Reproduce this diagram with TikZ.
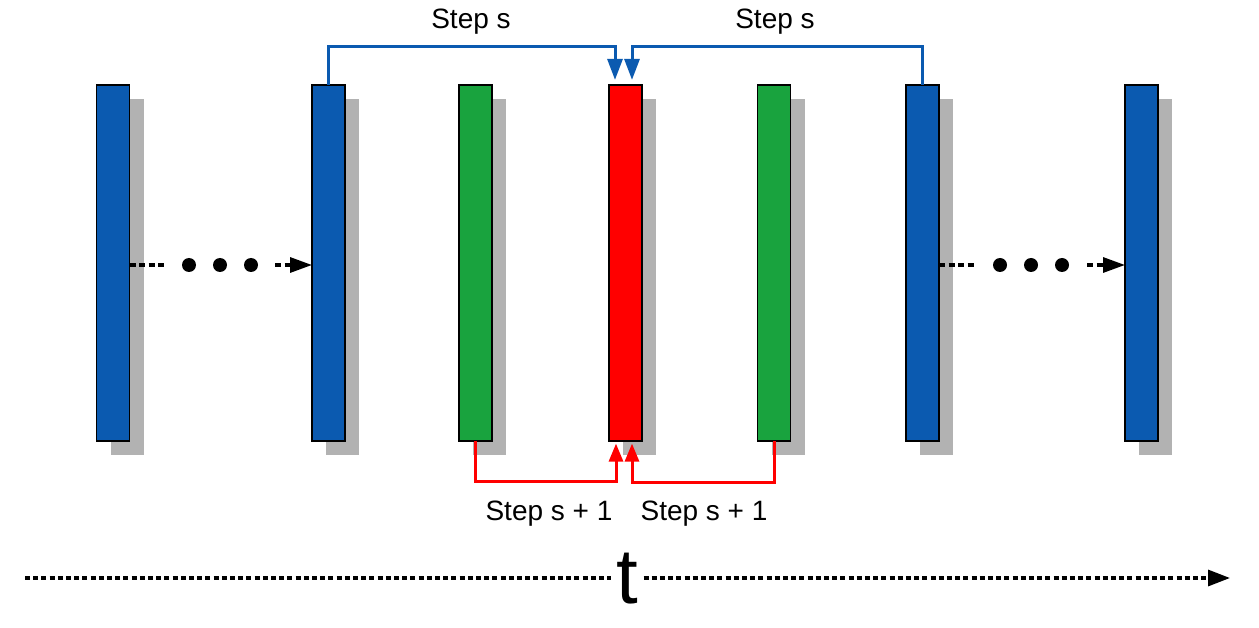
\documentclass[tikz,border=0pt]{standalone}
\usepackage{fontspec}
\setmainfont{Liberation Sans}
\usetikzlibrary{arrows.meta,shadows}
\definecolor{barblue}{RGB}{11,90,176}
\definecolor{bargreen}{RGB}{25,163,62}
\definecolor{barred}{RGB}{255,0,0}
\definecolor{shadowgray}{RGB}{178,178,178}
\begin{document}
\begin{tikzpicture}[x=1pt,y=-1pt,
  bar/.style={draw=black, line width=1.8pt, minimum width=33pt, minimum height=356.2pt,
    inner sep=0pt, outer sep=0pt,
    drop shadow={shadow xshift=14pt, shadow yshift=-14pt, fill=shadowgray, opacity=1, draw=none}},
  bluearr/.style={draw=barblue, line width=3pt, -{Triangle[length=21pt,width=15pt]}, shorten >=5pt},
  redarr/.style={draw=barred, line width=3pt, -{Triangle[length=18pt,width=14pt]}, shorten >=2.5pt},
  dotline/.style={draw=black, line width=3.2pt, dash pattern=on 6pt off 3.5pt},
  axisline/.style={draw=black, line width=3.2pt, dash pattern=on 5pt off 3.2pt},
  bigdot/.style={circle, fill=black, minimum size=14pt, inner sep=0pt},
  lbl/.style={font=\fontsize{28}{33}\selectfont, inner sep=0pt, anchor=base}]
\useasboundingbox (0,0) rectangle (1259,628);
% bars
\node[bar, fill=barblue]  (b1) at (113,263)   {};
\node[bar, fill=barblue]  (b2) at (328.5,263) {};
\node[bar, fill=bargreen] (g1) at (475.5,263) {};
\node[bar, fill=barred]   (r)  at (625.5,263) {};
\node[bar, fill=bargreen] (g2) at (774,263)   {};
\node[bar, fill=barblue]  (b6) at (922.5,263) {};
\node[bar, fill=barblue]  (b7) at (1141.5,263) {};
% top arrows
\draw[bluearr] (b2.north) -- ++(0,-38) -| ([xshift=-10.5pt]r.north);
\draw[bluearr] (b6.north) -- ++(0,-38) -| ([xshift=6.5pt]r.north);
\node[lbl] (s1) at (471,29) {Step s};
\node[lbl] (s2) at (775,29) {Step s};
% bottom arrows
\draw[redarr] (g1.south) -- ++(0,40) -| ([xshift=-9.5pt]r.south);
\draw[redarr] (g2.south) -- ++(0,41) -| ([xshift=6.5pt]r.south);
\node[lbl] (s3) at (549,520) {Step s + 1};
\node[lbl] (s4) at (704,520) {Step s + 1};
% dotted connectors left
\node[bigdot] (d1) at (189,265) {};
\node[bigdot] (d2) at (220,265) {};
\node[bigdot] (d3) at (251,265) {};
\draw[dotline, shorten >=17pt] (b1.east |- d1) -- (d1);
\draw[dotline, shorten <=17pt, -{Triangle[length=22pt,width=15pt]}] (d3) -- (b2.west |- d3);
% dotted connectors right
\node[bigdot] (d4) at (1000,265) {};
\node[bigdot] (d5) at (1031,265) {};
\node[bigdot] (d6) at (1062,265) {};
\draw[dotline, shorten >=17pt] (b6.east |- d4) -- (d4);
\draw[dotline, shorten <=18pt, -{Triangle[length=22pt,width=15pt]}] (d6) -- (b7.west |- d6);
% time axis
\coordinate (t0) at (25,578);
\coordinate (t1) at (1230,578);
\node[font=\fontsize{78}{90}\selectfont, inner sep=0pt, anchor=base] (t) at (627.5,603) {t};
\draw[axisline] (t0) -- ([xshift=-5pt]t.west |- t0);
\draw[axisline, -{Triangle[length=22pt,width=16pt]}] ([xshift=5pt]t.east |- t0) -- (t1);
\end{tikzpicture}
\end{document}
